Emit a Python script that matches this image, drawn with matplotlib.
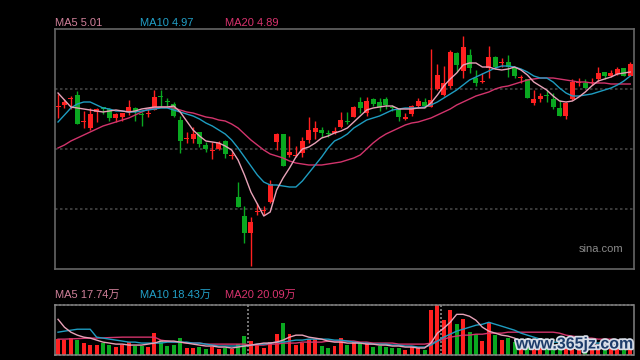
import matplotlib
matplotlib.use("Agg")
import matplotlib.pyplot as plt
import matplotlib.patheffects as pe
import numpy as np

# daily candles (price)
opens = [4.66, 4.68, 4.74, 4.78, 4.51, 4.45, 4.61, 4.66, 4.64, 4.55,
         4.56, 4.61, 4.65, 4.59, 4.59, 4.63, 4.77, 4.72, 4.69, 4.53,
         4.34, 4.34, 4.41, 4.28, 4.22, 4.24, 4.32, 4.17, 3.76, 3.57,
         3.40, 3.61, 3.62, 3.71, 4.31, 4.39, 4.18, 4.17, 4.20, 4.33,
         4.41, 4.43, 4.40, 4.40, 4.46, 4.52, 4.56, 4.71, 4.60, 4.74,
         4.71, 4.74, 4.66, 4.64, 4.54, 4.59, 4.67, 4.71, 4.66, 4.84,
         4.78, 4.87, 5.20, 5.02, 5.18, 4.95, 4.91, 5.05, 5.16, 5.10,
         5.11, 5.05, 4.95, 4.94, 4.70, 4.74, 4.78, 4.74, 4.65, 4.57,
         4.74, 4.90, 4.90, 4.90, 4.94, 5.01, 4.97, 4.99, 5.05, 4.97]
closes = [4.66, 4.71, 4.75, 4.49, 4.51, 4.59, 4.64, 4.64, 4.55, 4.59,
          4.60, 4.66, 4.61, 4.58, 4.59, 4.76, 4.76, 4.71, 4.57, 4.32,
          4.34, 4.39, 4.29, 4.24, 4.22, 4.30, 4.19, 4.17, 3.66, 3.40,
          3.51, 3.61, 3.62, 3.89, 4.39, 4.07, 4.21, 4.17, 4.32, 4.43,
          4.45, 4.40, 4.39, 4.42, 4.53, 4.51, 4.66, 4.65, 4.72, 4.69,
          4.66, 4.68, 4.65, 4.56, 4.56, 4.67, 4.72, 4.67, 4.73, 4.98,
          4.90, 5.21, 5.08, 5.26, 5.05, 4.90, 4.91, 5.16, 5.06, 5.10,
          5.06, 4.97, 4.95, 4.75, 4.74, 4.77, 4.77, 4.66, 4.57, 4.70,
          4.91, 4.90, 4.85, 4.90, 5.00, 4.97, 5.00, 5.04, 4.97, 5.09]
highs = [4.79, 4.74, 4.77, 4.82, 4.62, 4.65, 4.65, 4.66, 4.65, 4.60,
         4.60, 4.73, 4.66, 4.61, 4.65, 4.83, 4.83, 4.75, 4.71, 4.57,
         4.41, 4.46, 4.41, 4.31, 4.31, 4.32, 4.33, 4.21, 3.91, 3.67,
         3.56, 3.70, 3.67, 3.93, 4.40, 4.39, 4.37, 4.27, 4.36, 4.56,
         4.52, 4.46, 4.43, 4.46, 4.61, 4.61, 4.67, 4.76, 4.76, 4.75,
         4.75, 4.76, 4.68, 4.64, 4.60, 4.68, 4.75, 4.75, 5.24, 5.09,
         5.07, 5.23, 5.21, 5.37, 5.24, 5.03, 5.00, 5.27, 5.17, 5.15,
         5.18, 5.05, 4.98, 4.94, 4.83, 4.80, 4.83, 4.80, 4.73, 4.71,
         4.94, 4.95, 4.94, 4.95, 5.06, 5.01, 5.03, 5.06, 5.05, 5.11]
lows = [4.55, 4.65, 4.64, 4.49, 4.45, 4.43, 4.51, 4.59, 4.52, 4.51,
        4.52, 4.58, 4.52, 4.47, 4.56, 4.63, 4.66, 4.66, 4.56, 4.20,
        4.30, 4.30, 4.26, 4.21, 4.14, 4.23, 4.15, 4.14, 3.66, 3.30,
        3.07, 3.58, 3.58, 3.70, 4.23, 4.07, 4.16, 4.16, 4.16, 4.30,
        4.34, 4.36, 4.36, 4.39, 4.45, 4.49, 4.56, 4.60, 4.57, 4.67,
        4.62, 4.64, 4.62, 4.52, 4.53, 4.57, 4.66, 4.65, 4.66, 4.83,
        4.77, 4.85, 5.01, 4.95, 5.00, 4.87, 4.90, 4.95, 5.04, 5.06,
        4.96, 4.95, 4.90, 4.75, 4.68, 4.71, 4.71, 4.64, 4.57, 4.54,
        4.73, 4.87, 4.85, 4.88, 4.91, 4.94, 4.96, 4.98, 4.97, 4.97]

ma5 = [4.80, 4.73, 4.66, 4.65, 4.64, 4.63, 4.62, 4.61, 4.62, 4.63,
       4.62, 4.61, 4.62, 4.64, 4.65, 4.66, 4.66, 4.66, 4.67, 4.61,
       4.52, 4.43, 4.37, 4.32, 4.31, 4.30, 4.27, 4.23, 4.13, 3.98,
       3.81, 3.69, 3.57, 3.61, 3.83, 3.95, 4.05, 4.16, 4.24, 4.26,
       4.30, 4.35, 4.37, 4.40, 4.42, 4.45, 4.51, 4.57, 4.63, 4.65,
       4.66, 4.67, 4.67, 4.64, 4.64, 4.64, 4.65, 4.65, 4.70, 4.78,
       4.87, 4.94, 5.00, 5.08, 5.10, 5.10, 5.06, 5.06, 5.04, 5.03,
       5.04, 5.06, 5.03, 4.98, 4.91, 4.87, 4.83, 4.77, 4.72, 4.71,
       4.72, 4.76, 4.81, 4.87, 4.92, 4.94, 4.96, 4.99, 5.00, 5.01]
ma10 = [4.51, 4.58, 4.65, 4.69, 4.71, 4.71, 4.68, 4.65, 4.64, 4.62,
        4.62, 4.61, 4.61, 4.62, 4.63, 4.64, 4.65, 4.65, 4.63, 4.61,
        4.59, 4.57, 4.54, 4.50, 4.47, 4.43, 4.39, 4.33, 4.25, 4.16,
        4.07, 3.98, 3.91, 3.88, 3.88, 3.87, 3.86, 3.86, 3.92, 4.00,
        4.08, 4.16, 4.25, 4.32, 4.35, 4.39, 4.45, 4.49, 4.53, 4.55,
        4.57, 4.60, 4.63, 4.64, 4.65, 4.65, 4.65, 4.66, 4.68, 4.71,
        4.75, 4.79, 4.83, 4.88, 4.93, 4.96, 4.99, 5.02, 5.05, 5.07,
        5.07, 5.06, 5.04, 5.01, 4.97, 4.95, 4.95, 4.91, 4.85, 4.80,
        4.77, 4.77, 4.78, 4.79, 4.81, 4.83, 4.85, 4.88, 4.92, 4.97]
ma20 = [4.25, 4.28, 4.32, 4.35, 4.38, 4.41, 4.44, 4.47, 4.49, 4.51,
        4.53, 4.55, 4.58, 4.61, 4.64, 4.65, 4.66, 4.66, 4.65, 4.63,
        4.61, 4.60, 4.58, 4.56, 4.55, 4.53, 4.52, 4.49, 4.45, 4.39,
        4.33, 4.28, 4.23, 4.19, 4.17, 4.15, 4.12, 4.10, 4.09, 4.08,
        4.08, 4.08, 4.09, 4.10, 4.11, 4.13, 4.15, 4.18, 4.24, 4.30,
        4.35, 4.39, 4.42, 4.45, 4.48, 4.50, 4.51, 4.53, 4.55, 4.58,
        4.61, 4.64, 4.68, 4.71, 4.74, 4.77, 4.79, 4.81, 4.84, 4.86,
        4.87, 4.89, 4.91, 4.93, 4.94, 4.95, 4.95, 4.95, 4.94, 4.93,
        4.92, 4.91, 4.91, 4.90, 4.90, 4.90, 4.89, 4.89, 4.89, 4.89]

# volume in 万 shares
vol = [21.4, 20.1, 22.8, 20.1, 16.1, 13.4, 13.4, 16.1, 13.4, 10.7,
       13.4, 17.4, 12.1, 12.1, 10.7, 29.5, 20.1, 12.1, 13.4, 22.8,
       9.4, 9.4, 10.7, 8.0, 10.7, 8.0, 9.4, 8.0, 14.7, 25.5,
       18.8, 13.4, 9.4, 17.4, 28.1, 42.9, 28.1, 13.4, 16.1, 21.4,
       21.4, 12.1, 9.4, 12.1, 22.8, 13.4, 17.4, 16.1, 17.4, 10.7,
       12.1, 10.7, 9.4, 9.4, 6.7, 10.7, 9.4, 6.7, 60.3, 67.0,
       46.9, 60.3, 41.5, 48.2, 30.8, 28.1, 18.8, 44.2, 26.8, 20.1,
       22.8, 17.4, 10.7, 20.1, 10.7, 9.4, 8.0, 12.1, 13.4, 17.4,
       20.1, 9.4, 9.4, 8.0, 12.1, 9.4, 8.0, 10.7, 10.7, 16.1]
vol_ma5 = [48.2, 37.5, 30.8, 26.8, 24.1, 22.8, 20.1, 17.4, 16.1, 14.7,
           14.7, 13.4, 13.4, 13.4, 14.7, 16.1, 18.8, 18.8, 18.8, 17.4,
           16.1, 14.7, 13.4, 12.1, 12.1, 10.7, 10.7, 9.4, 10.7, 12.1,
           13.4, 14.7, 16.1, 16.1, 17.4, 20.1, 24.1, 26.8, 26.8, 24.1,
           22.8, 21.4, 18.8, 17.4, 17.4, 16.1, 16.1, 16.1, 14.7, 14.7,
           13.4, 13.4, 12.1, 12.1, 10.7, 10.7, 9.4, 9.4, 16.1, 29.5,
           36.2, 44.2, 54.9, 54.9, 52.3, 46.9, 37.5, 32.2, 29.5, 26.8,
           25.5, 22.8, 18.8, 16.1, 13.4, 10.7, 10.7, 10.7, 12.1, 13.4,
           14.7, 14.7, 14.7, 13.4, 13.4, 12.1, 12.1, 12.1, 13.4, 17.74]
vol_ma10 = [30.8, 32.2, 33.5, 34.8, 34.8, 34.8, 24.1, 22.8, 21.4, 20.1,
            18.8, 17.4, 17.4, 16.1, 16.1, 16.1, 16.1, 17.4, 17.4, 17.4,
            17.4, 16.1, 16.1, 14.7, 13.4, 12.1, 12.1, 12.1, 12.1, 12.1,
            13.4, 14.7, 14.7, 16.1, 17.4, 17.4, 18.8, 20.1, 20.1, 21.4,
            21.4, 21.4, 21.4, 20.1, 20.1, 18.8, 17.4, 16.1, 16.1, 14.7,
            14.7, 14.7, 13.4, 13.4, 12.1, 12.1, 10.7, 10.7, 13.4, 18.8,
            24.1, 28.1, 32.2, 34.8, 37.5, 40.2, 41.5, 44.2, 41.5, 38.9,
            36.2, 33.5, 29.5, 26.8, 24.1, 21.4, 18.8, 17.4, 17.4, 16.1,
            16.1, 16.1, 16.1, 16.1, 16.1, 17.4, 17.4, 17.4, 17.4, 18.43]
vol_ma20 = [21.4, 21.4, 21.8, 22.1, 22.5, 22.8, 22.8, 23.1, 23.5, 23.8,
            24.1, 24.1, 24.1, 24.1, 24.1, 24.1, 20.1, 18.8, 17.4, 17.4,
            16.1, 16.1, 16.1, 14.7, 14.7, 14.7, 14.7, 14.7, 14.7, 14.7,
            13.4, 13.4, 13.4, 14.7, 14.7, 16.1, 16.1, 16.1, 17.4, 17.4,
            17.4, 17.4, 18.8, 18.8, 18.8, 18.8, 18.8, 17.4, 17.4, 16.1,
            16.1, 16.1, 16.1, 14.7, 14.7, 14.7, 14.7, 14.7, 16.1, 18.8,
            21.4, 24.1, 25.5, 26.8, 26.8, 28.1, 28.1, 29.5, 29.5, 29.5,
            30.8, 30.8, 30.8, 30.8, 30.8, 30.8, 30.8, 30.8, 29.5, 26.8,
            25.5, 24.1, 22.8, 22.8, 21.4, 21.4, 21.4, 20.1, 20.1, 20.09]

UP = '#ff2020'
DOWN = '#0aa820'
C5 = '#e8a2b8'
C10 = '#1e9cc0'
C20 = '#d2346c'
FONT = ['Liberation Sans', 'Noto Sans CJK SC']

x = np.arange(len(closes))
o = np.array(opens)
c = np.array(closes)
colors = [UP if cc >= oo else DOWN for oo, cc in zip(o, c)]

fig = plt.figure(figsize=(6.4, 3.6), dpi=100, facecolor='black')
ax = fig.add_axes([55 / 640, 91 / 360, 579 / 640, 240 / 360], facecolor='black')
axv = fig.add_axes([55 / 640, 5 / 360, 579 / 640, 50 / 360], facecolor='black')

# price panel
for yg in [3.64, 4.24, 4.84]:
    ax.axhline(yg, color='#444444', lw=1.2, ls=(0, (1.5, 1.5)), zorder=1)

ax.vlines(x, lows, highs, colors=colors, lw=1, zorder=2)
bottoms = np.minimum(o, c)
heights = np.maximum(np.abs(c - o), 0.01)
ax.bar(x, heights, bottom=bottoms, width=0.78, color=colors, lw=0, zorder=3)

ax.plot(x, ma20, color=C20, lw=1.0, zorder=4)
ax.plot(x, ma10, color=C10, lw=1.0, zorder=4)
ax.plot(x, ma5, color=C5, lw=1.0, zorder=5)

ax.set_xlim(-0.47, 89.58)
ax.set_ylim(3.04, 5.44)
ax.set_xticks([])
ax.set_yticks([])
for s in ax.spines.values():
    s.set_color('#666666')
    s.set_linewidth(1.2)

# volume panel
axv.bar(x, vol, width=0.62, color=colors, lw=0, zorder=2)
axv.plot(x, vol_ma20, color=C20, lw=1.0, zorder=3)
axv.plot(x, vol_ma10, color=C10, lw=1.0, zorder=3)
axv.plot(x, vol_ma5, color=C5, lw=1.0, zorder=4)
for xv in [29.5, 59.5]:
    axv.axvline(xv, color='#888888', lw=1.2, ls=(0, (1.2, 1.2)), zorder=1)
axv.set_xlim(-0.47, 89.58)
axv.set_ylim(0, 67.5)
axv.set_xticks([])
axv.set_yticks([])
for side in ['top', 'bottom']:
    axv.spines[side].set_color('#888888')
    axv.spines[side].set_linestyle((0, (1.2, 1.2)))
    axv.spines[side].set_linewidth(1.2)
for side in ['left', 'right']:
    axv.spines[side].set_color('#777777')
    axv.spines[side].set_linewidth(1.2)

# labels
fig.text(55 / 640, 1 - 23 / 360, f'MA5 {ma5[-1]:.2f}', color='#d0809a', fontsize=8, va='center', family=FONT)
fig.text(140 / 640, 1 - 23 / 360, f'MA10 {ma10[-1]:.2f}', color='#22a0c8', fontsize=8, va='center', family=FONT)
fig.text(225 / 640, 1 - 23 / 360, f'MA20 {ma20[-1]:.2f}', color='#d8336e', fontsize=8, va='center', family=FONT)

fig.text(55 / 640, 1 - 295 / 360, f'MA5 {vol_ma5[-1]:.2f}万', color='#d0809a', fontsize=8, va='center', family=FONT)
fig.text(140 / 640, 1 - 295 / 360, f'MA10 {vol_ma10[-1]:.2f}万', color='#22a0c8', fontsize=8, va='center', family=FONT)
fig.text(225 / 640, 1 - 295 / 360, f'MA20 {vol_ma20[-1]:.2f}万', color='#d8336e', fontsize=8, va='center', family=FONT)

fig.text(623 / 640, 1 - 249 / 360, 'sina.com', color='#8a8a8a', fontsize=8, ha='right', va='center', family=FONT)

wm = fig.text(634 / 640, 1 - 344 / 360, 'www.365jz.com', color='#1d3c6a', fontsize=11.5,
              fontweight='bold', ha='right', va='center', family=FONT, zorder=10)
wm.set_path_effects([pe.withStroke(linewidth=2.5, foreground='#d8dee8')])

fig.savefig('out.png', dpi=100, facecolor='black')
